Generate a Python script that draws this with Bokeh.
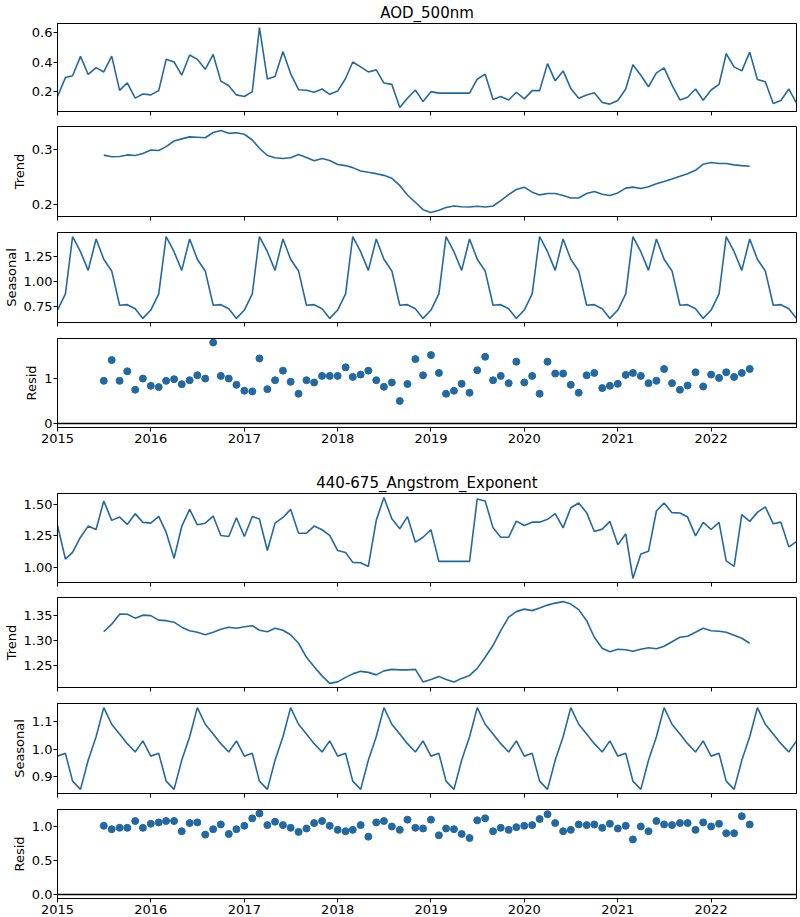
import numpy as np
import pandas as pd
from bokeh.plotting import figure
from bokeh.layouts import column
from bokeh.models import (Range1d, FixedTicker, PrintfTickFormatter,
                          DatetimeTickFormatter, CustomJSTickFormatter, Span)
from bokeh.embed import file_html
from bokeh.resources import INLINE

# ---- monthly series, Jan 2015 .. Dec 2022 ----
months = pd.date_range("2015-01-01", "2022-12-01", freq="MS")
# centred 12-month moving average leaves Jul 2015 .. Jun 2022
trend_months = months[6:90]
year_ticks = list(range(2015, 2023))

aod_observed = [
    0.167, 0.295, 0.307, 0.438, 0.316, 0.362, 0.333, 0.440, 0.209, 0.260, 0.156, 0.184,
    0.178, 0.207, 0.418, 0.400, 0.311, 0.447, 0.418, 0.351, 0.451, 0.271, 0.240, 0.178,
    0.167, 0.200, 0.633, 0.285, 0.302, 0.471, 0.322, 0.213, 0.209, 0.196, 0.218, 0.182,
    0.204, 0.289, 0.400, 0.367, 0.333, 0.347, 0.258, 0.249, 0.093, 0.155, 0.211, 0.133,
    0.200, 0.190, 0.190, 0.190, 0.190, 0.190, 0.284, 0.318, 0.147, 0.167, 0.144, 0.196,
    0.151, 0.207, 0.207, 0.389, 0.273, 0.340, 0.222, 0.156, 0.178, 0.193, 0.127, 0.116,
    0.140, 0.218, 0.382, 0.311, 0.233, 0.327, 0.360, 0.244, 0.144, 0.162, 0.218, 0.142,
    0.211, 0.249, 0.456, 0.367, 0.340, 0.467, 0.282, 0.267, 0.120, 0.140, 0.218, 0.122,
]
aod_trend = [
    0.2896, 0.2866, 0.2870, 0.2900, 0.2890, 0.2927, 0.2988, 0.2980, 0.3050, 0.3152, 0.3190, 0.3226,
    0.3220, 0.3210, 0.3305, 0.3340, 0.3290, 0.3300, 0.3274, 0.3170, 0.3020, 0.2890, 0.2848, 0.2835,
    0.2848, 0.2909, 0.2854, 0.2793, 0.2835, 0.2799, 0.2726, 0.2707, 0.2670, 0.2610, 0.2585, 0.2561,
    0.2530, 0.2476, 0.2348, 0.2175, 0.2043, 0.1909, 0.1860, 0.1900, 0.1950, 0.1976, 0.1963, 0.1957,
    0.1970, 0.1957, 0.1976, 0.2073, 0.2183, 0.2274, 0.2317, 0.2226, 0.2177, 0.2201, 0.2201, 0.2165,
    0.2122, 0.2122, 0.2201, 0.2238, 0.2189, 0.2165, 0.2213, 0.2299, 0.2317, 0.2293, 0.2323, 0.2378,
    0.2421, 0.2463, 0.2512, 0.2561, 0.2622, 0.2732, 0.2762, 0.2744, 0.2744, 0.2720, 0.2707, 0.2695,
]
# one seasonal factor per calendar month (Jan..Dec)
aod_seasonal = [0.720, 0.880, 1.447, 1.297, 1.113, 1.423, 1.223, 1.107, 0.767, 0.773, 0.733, 0.637]
aod_resid = [
    0.956, 1.422, 0.956, 1.170, 0.756, 1.007, 0.844, 0.815, 0.956, 0.993, 0.881, 0.970,
    1.081, 1.007, 1.815, 1.067, 1.007, 0.867, 0.733, 0.719, 1.459, 0.770, 0.970, 1.185,
    0.933, 0.667, 0.970, 0.919, 1.067, 1.067, 1.067, 1.259, 1.044, 1.096, 1.185, 0.970,
    0.822, 0.919, 0.504, 0.885, 1.444, 1.081, 1.533, 1.133, 0.667, 0.733, 0.889, 0.689,
    1.193, 1.496, 0.970, 1.067, 0.904, 1.385, 0.919, 1.067, 0.667, 1.385, 1.119, 1.119,
    0.867, 0.689, 1.081, 1.133, 0.793, 0.844, 0.889, 1.089, 1.133, 1.067, 0.904, 0.956,
    1.222, 0.904, 0.756, 0.852, 1.148, 0.830, 1.096, 1.022, 1.148, 1.044, 1.133, 1.222,
]

ae_observed = [
    1.332, 1.067, 1.120, 1.239, 1.327, 1.300, 1.525, 1.372, 1.398, 1.340, 1.425, 1.356,
    1.350, 1.403, 1.279, 1.073, 1.324, 1.459, 1.337, 1.350, 1.406, 1.253, 1.245, 1.393,
    1.245, 1.403, 1.382, 1.134, 1.350, 1.395, 1.459, 1.271, 1.271, 1.327, 1.298, 1.253,
    1.134, 1.118, 1.041, 1.038, 1.009, 1.372, 1.552, 1.385, 1.306, 1.402, 1.200, 1.239,
    1.298, 1.049, 1.049, 1.049, 1.049, 1.049, 1.541, 1.525, 1.313, 1.239, 1.239, 1.366,
    1.332, 1.358, 1.358, 1.380, 1.425, 1.313, 1.472, 1.509, 1.433, 1.284, 1.303, 1.364,
    1.179, 1.266, 0.914, 1.107, 1.128, 1.446, 1.509, 1.433, 1.430, 1.398, 1.250, 1.356,
    1.300, 1.356, 1.052, 1.009, 1.417, 1.364, 1.435, 1.478, 1.345, 1.358, 1.163, 1.205,
]
ae_trend = [
    1.318, 1.333, 1.353, 1.3527, 1.345, 1.351, 1.350, 1.341, 1.340, 1.337, 1.327, 1.320,
    1.317, 1.312, 1.317, 1.323, 1.327, 1.325, 1.328, 1.330, 1.321, 1.318, 1.325, 1.321,
    1.312, 1.295, 1.267, 1.248, 1.230, 1.215, 1.218, 1.227, 1.234, 1.239, 1.237, 1.232,
    1.240, 1.243, 1.242, 1.242, 1.243, 1.218, 1.223, 1.229, 1.223, 1.218, 1.225, 1.231,
    1.245, 1.267, 1.291, 1.320, 1.347, 1.358, 1.363, 1.360, 1.365, 1.371, 1.375, 1.378,
    1.373, 1.362, 1.340, 1.307, 1.285, 1.278, 1.283, 1.282, 1.279, 1.283, 1.286, 1.284,
    1.289, 1.298, 1.307, 1.309, 1.317, 1.325, 1.320, 1.319, 1.317, 1.311, 1.305, 1.295,
]
ae_seasonal = [0.975, 0.985, 0.885, 0.855, 0.960, 1.045, 1.150, 1.090, 1.055, 1.020, 0.990, 1.030]
ae_resid = [
    1.01, 0.96, 0.98, 0.98, 1.08, 0.98, 1.04, 1.06, 1.08, 1.08, 0.93, 1.05,
    1.06, 0.88, 0.96, 1.03, 0.89, 0.96, 1.01, 1.12, 1.19, 1.02, 1.07, 1.02,
    0.98, 0.92, 0.97, 1.05, 1.08, 1.01, 0.95, 0.93, 0.95, 1.02, 0.85, 1.06,
    1.08, 1.00, 0.95, 1.10, 0.98, 0.97, 1.10, 0.87, 0.97, 0.96, 0.89, 0.83,
    1.09, 1.12, 0.93, 0.98, 0.95, 0.99, 1.01, 1.02, 1.11, 1.18, 1.05, 0.93,
    0.95, 1.03, 1.02, 1.03, 0.98, 1.04, 0.97, 1.01, 0.81, 1.00, 0.93, 1.08,
    1.03, 1.02, 1.05, 1.05, 0.95, 1.06, 1.00, 1.04, 0.90, 0.90, 1.15, 1.03,
]

BLUE = "#2369a1"
FONT = "DejaVu Sans"

x_range = Range1d(months[0], months[-1])
year_ms = [pd.Timestamp(f"{y}-01-01").timestamp() * 1000 for y in year_ticks]


def padded(values, include_zero=False):
    v = np.asarray(values, dtype=float)
    lo, hi = v.min(), v.max()
    if include_zero:
        lo = min(lo, 0.0)
    pad = (hi - lo) * 0.05
    return Range1d(lo - pad, hi + pad)


def panel(ylabel, y_range, yticks, yfmt, top, frame_h, bottom,
          title=None, xlabels=False):
    p = figure(width=800, height=top + frame_h + bottom,
               x_axis_type="datetime", x_range=x_range, y_range=y_range,
               title=title, toolbar_location=None, output_backend="svg",
               min_border_left=53, min_border_right=4,
               min_border_top=top, min_border_bottom=bottom)
    p.background_fill_color = "white"
    p.border_fill_color = "white"
    p.outline_line_color = "black"
    p.outline_line_width = 1
    p.outline_line_alpha = 1
    p.xgrid.visible = False
    p.ygrid.visible = False
    if title:
        p.title.align = "center"
        p.title.text_font = FONT
        p.title.text_font_size = "15px"
        p.title.text_font_style = "normal"
        p.title.text_color = "black"
        p.title.standoff = 3

    for ax in (p.xaxis[0], p.yaxis[0]):
        ax.axis_line_color = "black"
        ax.major_tick_line_color = "black"
        ax.major_tick_out = 4
        ax.major_tick_in = 0
        ax.minor_tick_out = 0
        ax.minor_tick_in = 0
        ax.major_label_text_font = FONT
        ax.major_label_text_font_size = "13px"
        ax.major_label_text_color = "black"

    xa = p.xaxis[0]
    xa.ticker = FixedTicker(ticks=year_ms)
    if xlabels:
        xa.formatter = DatetimeTickFormatter(years="%Y", months="%Y", days="%Y")
        xa.major_label_standoff = 2
    else:
        xa.formatter = CustomJSTickFormatter(code="return ''")
        xa.major_label_standoff = 0

    ya = p.yaxis[0]
    ya.ticker = FixedTicker(ticks=yticks)
    ya.formatter = PrintfTickFormatter(format=yfmt)
    ya.major_label_standoff = 1
    if ylabel:
        ya.axis_label = ylabel
        ya.axis_label_text_font = FONT
        ya.axis_label_text_font_size = "13px"
        ya.axis_label_text_font_style = "normal"
        ya.axis_label_text_color = "black"
        ya.axis_label_standoff = 2
    return p


def decomposition(name, observed, trend, seasonal, resid, spec, first_top):
    seasonal_full = np.tile(seasonal, len(months) // 12)

    p1 = panel(None, padded(observed), spec[0][0], spec[0][1],
               first_top, 89, 7, title=name)
    p1.line(months, observed, line_color=BLUE, line_width=1.6)

    p2 = panel("Trend", padded(trend), spec[1][0], spec[1][1], 8, 90, 8)
    p2.line(trend_months, trend, line_color=BLUE, line_width=1.6)

    p3 = panel("Seasonal", padded(seasonal_full), spec[2][0], spec[2][1], 8, 90, 8)
    p3.line(months, seasonal_full, line_color=BLUE, line_width=1.6)

    p4 = panel("Resid", padded(resid, include_zero=True), spec[3][0], spec[3][1],
               8, 89, 30, xlabels=True)
    p4.add_layout(Span(location=0, dimension="width", line_color="black",
                       line_width=1.5, level="underlay"))
    p4.scatter(trend_months, resid, size=7, fill_color=BLUE, line_color=BLUE)
    return [p1, p2, p3, p4]


aod_panels = decomposition(
    "AOD_500nm", aod_observed, aod_trend, aod_seasonal, aod_resid,
    [([0.2, 0.4, 0.6], "%.1f"), ([0.2, 0.3], "%.1f"),
     ([0.75, 1.0, 1.25], "%.2f"), ([0, 1], "%d")],
    22)
ae_panels = decomposition(
    "440-675_Angstrom_Exponent", ae_observed, ae_trend, ae_seasonal, ae_resid,
    [([1.0, 1.25, 1.5], "%.2f"), ([1.25, 1.30, 1.35], "%.2f"),
     ([0.9, 1.0, 1.1], "%.1f"), ([0.0, 0.5, 1.0], "%.1f")],
    36)

layout = column(*aod_panels, *ae_panels, spacing=0)
open("out.html", "w").write(file_html(layout, INLINE))
